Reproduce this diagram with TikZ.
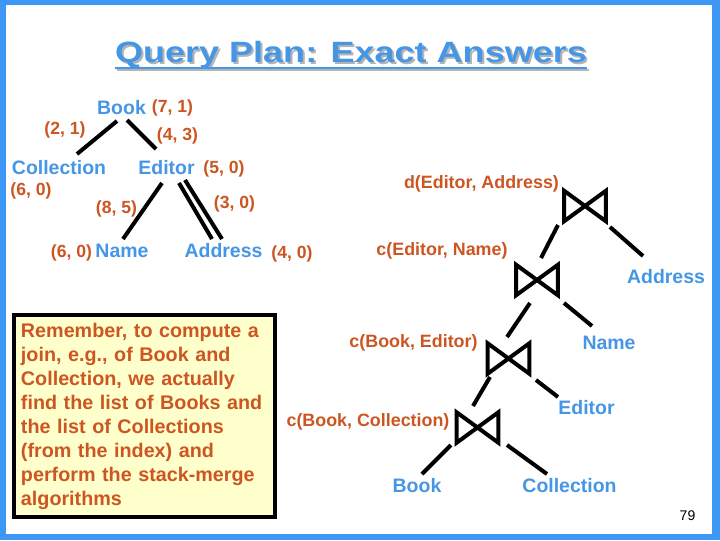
\documentclass[tikz,border=0pt]{standalone}
\usepackage{fontspec}
\setmainfont{Liberation Sans}
\definecolor{frameblue}{HTML}{3D97F5}
\definecolor{lblue}{HTML}{4696E6}
\definecolor{orng}{HTML}{CC5522}
\definecolor{noteyellow}{HTML}{FFFFCC}
\definecolor{shadowgray}{HTML}{B4B4B4}
\begin{document}
\begin{tikzpicture}[x=0.75pt,y=-0.75pt,
  lbl/.style={font=\bfseries\fontsize{14.6}{16}\selectfont, text=lblue, inner sep=0, anchor=base},
  num/.style={font=\bfseries\fontsize{13.2}{15}\selectfont, text=orng, inner sep=0, anchor=base},
  edge/.style={line width=3pt},
  bowtie/.style={minimum width=31pt, minimum height=22.5pt, inner sep=0},
  bt/.style={line width=3pt, line join=miter},
  titlefont/.style={font=\bfseries\fontsize{22}{26}\selectfont, inner sep=0, anchor=base, xscale=1.228}]
\useasboundingbox (0,0) rectangle (720,540);
% frame
\fill[frameblue] (0,0) rectangle (720,540);
\fill[white] (6,5) rectangle (712,534);
% title
\node[titlefont, text=shadowgray] (titleshadow) at (353,64) {Query Plan: Exact Answers};
\draw[shadowgray, line width=1.8pt] ([yshift=-4.5pt]titleshadow.base west) -- ([yshift=-4.5pt]titleshadow.base east);
\node[titlefont, text=lblue] (title) at (351,62) {Query Plan: Exact Answers};
\draw[lblue, line width=1.8pt] ([yshift=-4.5pt]title.base west) -- ([yshift=-4.5pt]title.base east);
% left tree
\node[lbl] (bookL) at (121.5,114) {Book};
\node[num] (n71) at (172.5,112) {(7, 1)};
\node[num] (n21) at (65,134) {(2, 1)};
\node[num] (n43) at (177.5,140) {(4, 3)};
\node[lbl] (collL) at (59,174) {Collection};
\node[lbl] (editL) at (166.5,174) {Editor};
\node[num] (n50) at (224,173) {(5, 0)};
\node[num] (n60a) at (31,195) {(6, 0)};
\node[num] (n85) at (116.5,213) {(8, 5)};
\node[num] (n30) at (234.5,208) {(3, 0)};
\node[num] (n60b) at (71.5,257) {(6, 0)};
\node[lbl] (nameL) at (122,257) {Name};
\node[lbl] (addrL) at (223.5,257) {Address};
\node[num] (n40) at (292,258) {(4, 0)};
\coordinate (bcA) at (117,121); \coordinate (bcB) at (77,154);
\coordinate (beA) at (127,120); \coordinate (beB) at (156,149);
\coordinate (enA) at (162,183); \coordinate (enB) at (123,239);
\coordinate (eaA) at (179,183); \coordinate (eaB) at (212,239);
\coordinate (eaC) at (185,180); \coordinate (eaD) at (222,239);
\draw[edge] (bcA) -- (bcB);
\draw[edge] (beA) -- (beB);
\draw[edge] (enA) -- (enB);
\draw[edge] (eaA) -- (eaB);
\draw[edge] (eaC) -- (eaD);
% note box
\node[draw=black, line width=3pt, fill=noteyellow, minimum width=195.75pt, minimum height=151.5pt,
      inner xsep=5.25pt, inner ysep=0pt, text width=185.25pt, align=left, text=orng,
      font=\bfseries\fontsize{14.8}{18}\selectfont] (note) at (144.5,416)
  {Remember, to compute a\\ join, e.g., of Book and\\ Collection, we actually\\ find the list of Books and\\ the list of Collections\\ (from the index) and\\ perform the stack-merge\\ algorithms};
% right tree
\node[num, font=\bfseries\fontsize{13.4}{15}\selectfont] (dEA) at (481.5,188) {d(Editor, Address)};
\node[num, font=\bfseries\fontsize{13.4}{15}\selectfont] (cEN) at (442,255) {c(Editor, Name)};
\node[num, font=\bfseries\fontsize{13.4}{15}\selectfont] (cBE) at (413.5,347) {c(Book, Editor)};
\node[num, font=\bfseries\fontsize{13.4}{15}\selectfont] (cBC) at (368,426) {c(Book, Collection)};
\node[lbl] (addrR) at (666,283) {Address};
\node[lbl] (nameR) at (609,349) {Name};
\node[lbl] (editR) at (586.5,414) {Editor};
\node[lbl] (bookR) at (417,492) {Book};
\node[lbl] (collR) at (569.5,492) {Collection};
\node[font=\fontsize{10.5}{12}\selectfont, inner sep=0, anchor=base] (pg) at (687.5,520) {79};
\foreach \n/\p in {b1/{(585,206)}, b2/{(537,280)}, b3/{(508.5,358.5)}, b4/{(477.5,427.5)}} {
  \node[bowtie] (\n) at \p {};
  \draw[bt] (\n.south west) -- (\n.north west) -- (\n.south east) -- (\n.north east) -- cycle;
}
\coordinate (r1a) at (558,225); \coordinate (r1b) at (541,258);
\coordinate (r2a) at (610,227); \coordinate (r2b) at (643,256);
\coordinate (r3a) at (530,303); \coordinate (r3b) at (507,337);
\coordinate (r4a) at (564,303); \coordinate (r4b) at (592,326);
\coordinate (r5a) at (490,377); \coordinate (r5b) at (473,406);
\coordinate (r6a) at (536,380); \coordinate (r6b) at (558,397);
\coordinate (r7a) at (451,445); \coordinate (r7b) at (422,474);
\coordinate (r8a) at (507,445); \coordinate (r8b) at (547,474);
\draw[edge] (r1a) -- (r1b);
\draw[edge] (r2a) -- (r2b);
\draw[edge] (r3a) -- (r3b);
\draw[edge] (r4a) -- (r4b);
\draw[edge] (r5a) -- (r5b);
\draw[edge] (r6a) -- (r6b);
\draw[edge] (r7a) -- (r7b);
\draw[edge] (r8a) -- (r8b);
\end{tikzpicture}
\end{document}
